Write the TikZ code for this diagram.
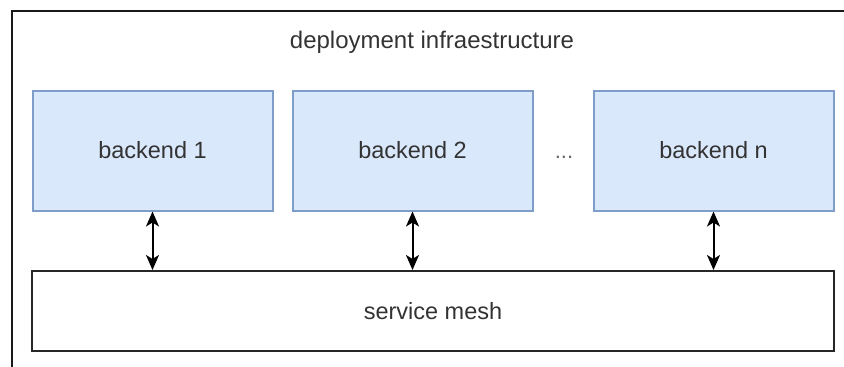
\documentclass[tikz,border=0pt]{standalone}
\usepackage{fontspec}
\setmainfont{Liberation Sans}
\usetikzlibrary{arrows.meta}
\definecolor{boxfill}{HTML}{DAE8FC}
\definecolor{boxline}{HTML}{7F9DC9}
\definecolor{txt}{HTML}{333333}
\tikzset{
  lbl/.style={text=txt, font=\fontsize{24}{28}\selectfont, inner sep=0pt},
  svc/.style={draw=boxline, fill=boxfill, line width=2pt, minimum width=240pt, minimum height=120pt, inner sep=0pt, text=txt, font=\fontsize{23.5}{28}\selectfont},
  mesh/.style={draw=black!85, fill=white, line width=2pt, minimum width=802pt, minimum height=80pt, inner sep=0pt, text=txt, font=\fontsize{23.5}{28}\selectfont},
  link/.style={line width=2pt, {Stealth[length=15pt,width=13pt,inset=4pt]}-{Stealth[length=15pt,width=13pt,inset=4pt]}}
}
\begin{document}
\begin{tikzpicture}[x=1pt,y=-1pt]
  \useasboundingbox (0,0) rectangle (844,367);
  \begin{scope}
    \clip (0,0) rectangle (844,367);
    % outer deployment frame, running past the right and bottom edges
    \draw[line width=2pt, black!90] (12,11) rectangle (860,390);
  \end{scope}
  \node[lbl] (title) at (432,42) {deployment infraestructure};
  \node[svc] (b1) at (152.5,150.5) {backend 1};
  \node[svc] (b2) at (412.5,150.5) {backend 2};
  \node[svc] (bn) at (713.5,150.5) {backend n};
  \node[lbl, font=\fontsize{22}{26}\selectfont, text=txt!75] (dots) at (564,157) {...};
  \node[mesh] (mesh) at (433,311) {service mesh};
  \draw[link] (b1.south) -- (b1.south |- mesh.north);
  \draw[link] (b2.south) -- (b2.south |- mesh.north);
  \draw[link] (bn.south) -- (bn.south |- mesh.north);
\end{tikzpicture}
\end{document}
